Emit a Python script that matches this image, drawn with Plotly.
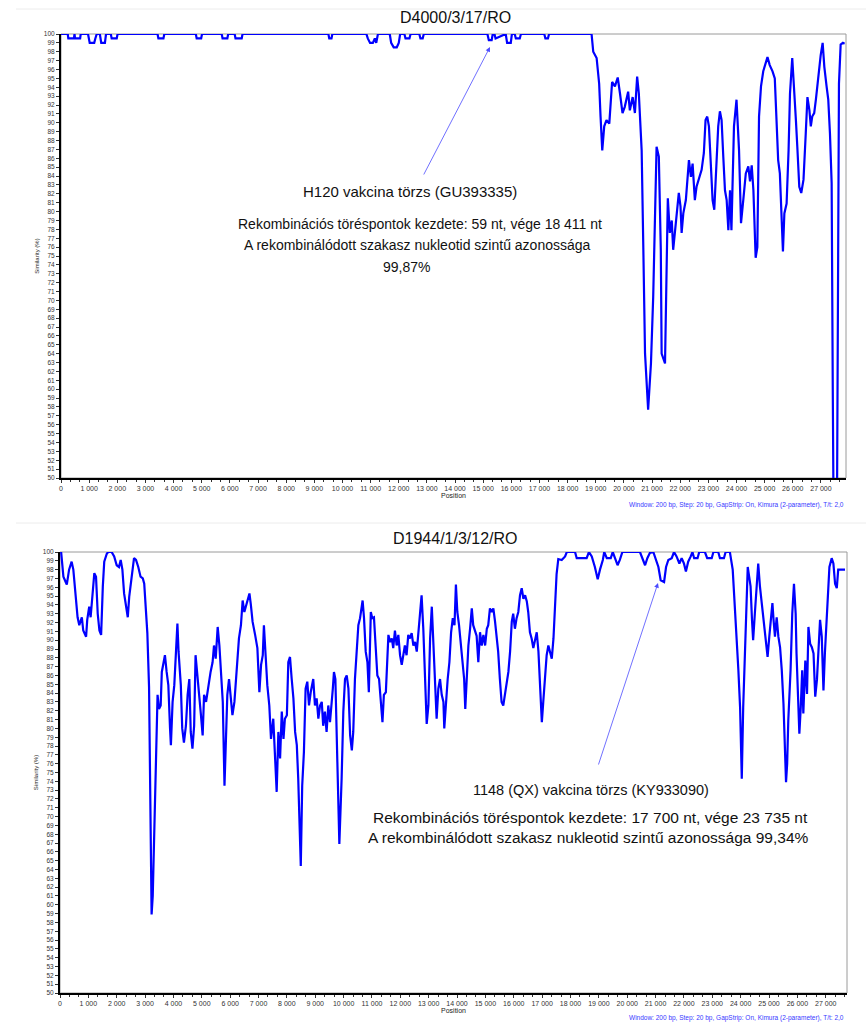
import plotly.graph_objects as go

W, H = 866, 1023

# ---------------- data: panel 1 (D4000/3/17/RO vs H120) ----------------
top_pos = [0, 240, 260, 460, 480, 500, 680, 700, 960, 1020, 1060, 1180, 1220, 1270,
           1380, 1430, 1470, 1560, 1600, 1770, 1800, 1980, 2010,
           3430, 3460, 3640, 3670, 4790, 4820, 4980, 5010, 5710, 5740, 5910, 5940,
           6170, 6200, 6420, 6450, 9500, 9530, 9610, 9640,
           10850, 10900, 10980, 11080, 11150, 11200, 11260, 11680, 11730, 11820,
           11930, 12000, 12050, 12200, 12240, 12380, 12420, 12730, 12770, 12850, 12890,
           15150, 15200, 15300, 15340, 15400, 15440, 15800, 15850, 15980, 16020,
           16120, 16160, 16300, 16340, 17170, 17210, 17300, 17340,
           18850, 18910, 19030, 19120, 19170, 19230, 19300, 19380, 19480, 19540,
           19580, 19680, 19780, 19860, 19950, 20030, 20150, 20210, 20310, 20390,
           20470, 20530, 20630, 20690, 20750, 20860, 20960, 21040, 21100, 21160,
           21240, 21310, 21340, 21460, 21520, 21560, 21630, 21700, 21750, 21810,
           21870, 21950, 22010, 22050, 22110, 22200, 22310, 22380, 22440, 22520,
           22580, 22680, 22760, 22840, 22900, 22960, 23020, 23080, 23150, 23210,
           23290, 23350, 23410, 23470, 23530, 23590, 23650, 23710, 23770, 23820,
           23910, 24000, 24090, 24160, 24240, 24330, 24420, 24480, 24540, 24600,
           24680, 24740, 24800, 24870, 24950, 25030, 25100, 25180, 25280, 25360,
           25420, 25480, 25540, 25600, 25650, 25700, 25780, 25850, 25900, 25980,
           26040, 26110, 26160, 26230, 26300, 26380, 26460, 26520, 26590, 26640,
           26690, 26760, 26820, 26900, 26990, 27060, 27120, 27200, 27260, 27320,
           27380, 27420, 27460, 27560, 27590, 27640, 27700, 27780, 27840]
top_sim = [100, 100, 99.5, 99.5, 100, 99.5, 99.5, 100, 100, 99, 99, 99, 99.5, 100,
           100, 99, 99, 99, 100, 100, 99.5, 99.5, 100,
           100, 99.5, 99.5, 100, 100, 99.5, 99.5, 100, 100, 99.5, 99.5, 100,
           100, 99.5, 99.5, 100, 100, 99.5, 99.5, 100,
           100, 99.5, 99, 99, 99.5, 99, 100, 100, 99, 98.5,
           98.5, 99, 100, 100, 99.5, 99.5, 100, 100, 99.5, 99.5, 100,
           100, 99.3, 99.3, 100, 100, 99.5, 100, 99, 99, 100,
           100, 99.5, 99.5, 100, 100, 99.5, 99.5, 100,
           100, 98.0, 97.3, 94.4, 90.7, 86.9, 89.6, 90.3, 89.9, 92.9,
           94.6, 94.1, 95.1, 93.3, 91.1, 91.8, 93.5, 91.4, 92.9, 91.1,
           95.2, 93.3, 86.9, 75.7, 64.0, 57.7, 62.9, 70.4, 77.9, 87.3,
           86.2, 75.7, 64.0, 62.9, 74.2, 81.5, 77.6, 79.0, 75.7, 77.9,
           79.8, 82.1, 80.6, 77.6, 79.8, 81.3, 85.8, 83.9, 85.4, 81.3,
           82.8, 83.9, 84.7, 86.6, 90.3, 90.7, 89.6, 85.8, 81.3, 80.2,
           85.1, 89.6, 91.3, 90.3, 86.2, 82.4, 81.3, 77.9, 82.4, 77.9,
           89.6, 92.6, 86.9, 78.7, 81.3, 84.3, 85.1, 83.4, 85.2, 82.4,
           74.8, 76.0, 90.7, 94.1, 95.8, 96.7, 97.4, 96.5, 95.8, 95.0,
           90.7, 85.8, 84.3, 80.0, 75.5, 79.8, 80.9, 86.9, 93.3, 97.3,
           93.3, 90.3, 87.3, 82.8, 82.1, 83.6, 88.8, 92.9, 91.4, 89.6,
           90.7, 91.1, 92.6, 95.2, 97.6, 99.0, 96.3, 94.1, 92.6, 88.8,
           83.2, 60.0, 40.0, 40.0, 69.3, 94.4, 98.8, 99.0, 98.9]

# ---------------- data: panel 2 (D1944/1/3/12/RO vs 1148 QX) ----------------
bot_pos = [40, 120, 200, 240, 320, 410, 470, 560, 620, 680, 770, 820, 920, 960,
           1030, 1080, 1140, 1210, 1270, 1330, 1390, 1450, 1510, 1560, 1650, 1700,
           1820, 1910, 2000, 2080, 2140, 2200, 2260, 2330, 2390, 2440, 2530, 2610,
           2680, 2760, 2840, 2920, 2970, 3030, 3080, 3140, 3180, 3230, 3270, 3330,
           3390, 3440, 3490, 3550, 3590, 3700, 3760, 3820, 3880, 3910, 3970, 4030,
           4090, 4140, 4180, 4260, 4310, 4370, 4440, 4500, 4560, 4610, 4670, 4730,
           4780, 4840, 4910, 4970, 5030, 5080, 5150, 5230, 5310, 5380, 5430, 5490,
           5560, 5620, 5680, 5740, 5800, 5840, 5900, 5960, 6020, 6080, 6150, 6230,
           6310, 6380, 6440, 6500, 6560, 6620, 6680, 6730, 6790, 6880, 6960, 7030,
           7090, 7150, 7190, 7250, 7310, 7380, 7440, 7520, 7580, 7640, 7700, 7760,
           7820, 7880, 7930, 8000, 8050, 8110, 8170, 8230, 8290, 8350, 8400, 8460,
           8490, 8540, 8600, 8660, 8720, 8780, 8840, 8930, 8990, 9050, 9110, 9170,
           9230, 9280, 9340, 9400, 9460, 9520, 9580, 9620, 9660, 9710, 9780, 9850,
           9930, 9990, 10050, 10110, 10170, 10230, 10290, 10340, 10400, 10460, 10520,
           10580, 10640, 10670, 10720, 10780, 10840, 10890, 10960, 11010, 11070,
           11130, 11190, 11250, 11310, 11370, 11420, 11490, 11580, 11640, 11700,
           11750, 11810, 11870, 11930, 11990, 12050, 12100, 12160, 12220, 12280,
           12340, 12400, 12460, 12520, 12580, 12640, 12690, 12750, 12810, 12870,
           12930, 12990, 13050, 13110, 13160, 13220, 13280, 13340, 13400, 13460,
           13520, 13550, 13610, 13670, 13730, 13790, 13850, 13910, 13960, 14010,
           14070, 14130, 14190, 14250, 14290, 14340, 14400, 14460, 14520, 14570,
           14630, 14690, 14750, 14810, 14870, 14930, 14990, 15050, 15100, 15160,
           15220, 15280, 15340, 15400, 15450, 15510, 15570, 15630, 15690, 15750,
           15810, 15870, 15930, 15980, 16040, 16100, 16160, 16220, 16280, 16340,
           16400, 16460, 16510, 16570, 16630, 16690, 16750, 16810, 16870, 16930,
           16990, 17040, 17100, 17160, 17220, 17280, 17340, 17400, 17450, 17510,
           17570, 17690, 17750, 17810, 17870, 18160, 18220, 18570, 18650, 18750,
           18860, 18960, 19040, 19140, 19190, 19280, 19420, 19490, 19570, 19660,
           19740, 19830, 20450, 20510, 20630, 20710, 20800, 20920, 21020, 21100,
           21180, 21300, 21370, 21450, 21570, 21650, 21740, 21840, 21920, 22000,
           22070, 22150, 22240, 22300, 22360, 22480, 22540, 22740, 22820, 22980,
           23040, 23210, 23270, 23410, 23470, 23620, 23720, 23800, 23860, 23920,
           23980, 24020, 24040, 24090, 24150, 24210, 24250, 24300, 24350, 24400,
           24440, 24500, 24560, 24620, 24680, 24740, 24820, 24890, 24950, 25010,
           25070, 25120, 25160, 25210, 25270, 25330, 25390, 25450, 25510, 25560,
           25600, 25640, 25680, 25760, 25820, 25880, 25940, 25970, 26030, 26070,
           26120, 26170, 26210, 26280, 26340, 26390, 26450, 26510, 26570, 26630,
           26690, 26740, 26800, 26860, 26920, 26970, 27060, 27130, 27210, 27270,
           27330, 27390, 27440, 27500, 27680]
bot_sim = [100, 97.2, 96.6, 96.3, 98.0, 98.9, 98.0, 94.9, 92.6, 91.7, 92.6, 91.1, 90.4, 92.3,
           93.8, 92.6, 95.1, 97.6, 97.2, 93.0, 91.1, 90.6, 96.1, 98.9, 99.8, 100,
           100, 99.5, 98.5, 98.3, 99.1, 98.0, 95.3, 93.8, 92.6, 94.9, 97.6, 99.3,
           99.1, 98.3, 97.2, 97.0, 96.4, 93.8, 90.8, 84.7, 74.3, 58.9, 61.0, 70.0,
           77.3, 83.8, 82.2, 82.6, 86.4, 88.3, 86.4, 84.9, 80.0, 78.1, 83.0, 84.9,
           88.7, 91.9, 88.7, 84.9, 80.0, 78.4, 80.3, 83.8, 85.6, 79.6, 77.7, 80.3,
           88.3, 86.4, 83.8, 81.5, 79.2, 83.8, 83.0, 84.9, 86.4, 87.5, 89.4, 87.9,
           91.5, 89.4, 86.4, 83.0, 73.5, 78.1, 83.8, 85.6, 83.8, 81.5, 83.0, 86.4,
           90.2, 91.7, 94.5, 93.2, 94.0, 94.7, 95.3, 94.0, 92.1, 90.6, 89.1, 84.1,
           87.2, 88.3, 91.7, 88.3, 84.9, 82.6, 78.8, 81.1, 77.3, 72.8, 79.6, 76.6,
           81.9, 78.8, 81.1, 81.5, 87.5, 88.1, 85.6, 83.4, 79.6, 78.1, 74.3, 68.6,
           64.4, 73.5, 77.3, 84.5, 85.3, 82.6, 84.1, 85.6, 82.6, 83.4, 81.1, 82.6,
           83.0, 80.3, 81.9, 79.6, 82.6, 80.7, 82.6, 84.5, 86.4, 85.6, 76.2, 66.9,
           74.3, 81.9, 85.6, 86.0, 84.5, 79.2, 77.5, 79.6, 85.6, 89.4, 91.7,
           92.5, 94.0, 94.5, 92.5, 88.7, 87.5, 84.1, 93.2, 92.5, 92.6,
           89.4, 86.0, 85.6, 82.6, 80.7, 83.8, 84.1, 90.6, 89.8, 90.2,
           89.1, 91.1, 89.4, 90.6, 88.3, 87.2, 88.3, 89.4, 88.3, 90.6,
           90.2, 90.8, 89.4, 89.8, 88.7, 90.9, 93.2, 95.1, 91.3, 84.9,
           80.5, 82.6, 90.2, 93.8, 90.2, 84.9, 81.1, 84.5, 85.6, 83.8,
           83.0, 80.0, 83.4, 85.6, 87.5, 90.9, 92.5, 91.7, 96.3, 93.2,
           91.7, 89.4, 87.2, 85.6, 82.2, 86.0, 89.4, 91.3, 93.6, 91.7,
           91.1, 90.5, 87.5, 90.9, 89.4, 90.6, 89.4, 91.3, 91.7, 93.6,
           93.2, 93.6, 92.1, 90.6, 88.7, 85.6, 83.0, 82.6, 83.8, 84.9,
           86.4, 88.7, 92.1, 93.0, 91.3, 92.5, 93.2, 95.1, 95.9, 94.7,
           95.1, 94.4, 93.2, 90.9, 90.2, 89.1, 90.2, 90.9, 88.7, 84.9,
           80.7, 83.0, 85.6, 88.3, 89.4, 88.7, 87.9, 90.2, 93.2, 97.5,
           99.2, 99.1, 99.3, 99.5, 100, 100, 99.3, 99.3, 100, 99.5,
           98.3, 96.9, 98.0, 99.1, 100, 99.3, 99.3, 100, 99.3, 98.5,
           99.1, 100, 100, 99.5, 98.5, 99.3, 99.9, 100, 99.1, 98.3,
           96.8, 96.6, 98.3, 99.1, 99.3, 100, 99.5, 98.7, 99.3, 98.7,
           97.8, 98.9, 99.5, 100, 99.3, 99.3, 100, 100, 99.3, 99.3,
           100, 100, 99.3, 99.3, 100, 100, 98.0, 93.8, 90.8, 86.6,
           82.4, 76.0, 74.3, 82.4, 89.2, 96.1, 98.3, 97.2, 96.1, 92.3,
           90.0, 93.0, 96.4, 98.7, 96.1, 94.2, 91.5, 89.2, 88.1, 90.4,
           92.6, 94.2, 92.3, 90.4, 92.6, 90.4, 89.2, 86.6, 82.8, 77.9,
           73.9, 76.0, 80.9, 86.6, 93.0, 96.4, 93.0, 88.5, 82.0, 79.4,
           82.4, 86.6, 81.7, 87.7, 83.9, 91.5, 89.6, 89.2, 88.5, 83.6,
           85.5, 88.5, 92.3, 90.4, 84.3, 88.5, 94.2, 98.3, 99.3, 98.7,
           96.4, 95.9, 98.0, 98.0, 98.0]

titles = ["D4000/3/17/RO", "D1944/1/3/12/RO"]
footnote = "Window: 200 bp, Step: 20 bp, GapStrip: On, Kimura (2-parameter), T/t: 2,0"
top_notes = ["H120 vakcina törzs (GU393335)",
             "Rekombinációs töréspontok kezdete: 59 nt, vége 18 411 nt",
             "A rekombinálódott szakasz nukleotid szintű azonossága",
             "99,87%"]
bot_notes = ["1148 (QX) vakcina törzs (KY933090)",
             "Rekombinációs töréspontok kezdete: 17 700 nt, vége 23 735 nt",
             "A rekombinálódott szakasz nukleotid szintű azonossága 99,34%"]

FONT = "Arial, Liberation Sans, sans-serif"


def px(x):
    return x / W


def py(y):
    return 1 - y / H


fig = go.Figure()
fig.add_trace(go.Scatter(x=top_pos, y=top_sim, mode="lines",
                         line=dict(color="#0000ff", width=2.2), xaxis="x", yaxis="y",
                         showlegend=False))
fig.add_trace(go.Scatter(x=bot_pos, y=bot_sim, mode="lines",
                         line=dict(color="#0000ff", width=2.2), xaxis="x2", yaxis="y2",
                         showlegend=False))


def xax(domain, rng, anchor):
    return dict(domain=domain, range=rng, anchor=anchor, showline=True, linecolor="#000",
                linewidth=2, ticks="outside", ticklen=3, tickwidth=1, tickcolor="#333",
                tick0=0, dtick=1000, tickformat=",d", showgrid=False, zeroline=False,
                automargin=False,
                tickfont=dict(size=7, color="#333", family=FONT),
                minor=dict(ticks="outside", ticklen=2, tick0=0, dtick=1000 / 3,
                           tickcolor="#333", showgrid=False),
                title=dict(text="Position", font=dict(size=7, color="#222", family=FONT),
                           standoff=2),
                fixedrange=True)


def yax(domain, anchor):
    return dict(domain=domain, range=[50, 100], anchor=anchor, showline=True,
                linecolor="#000", linewidth=2, ticks="outside", ticklen=3, tickwidth=1,
                tickcolor="#333", tick0=50, dtick=1, showgrid=False, zeroline=False,
                automargin=False,
                tickfont=dict(size=6.5, color="#333", family=FONT),
                title=dict(text="Similarity (%)", font=dict(size=6, color="#222", family=FONT),
                           standoff=4),
                fixedrange=True)


fig.update_layout(
    width=W, height=H, margin=dict(l=0, r=0, t=0, b=0, autoexpand=False),
    paper_bgcolor="white", plot_bgcolor="white", separators=", ",
    xaxis=xax([px(61), px(846)], [0, 27890], "y"),
    yaxis=yax([py(478), py(34)], "x"),
    xaxis2=xax([px(60), px(847)], [0, 27750], "y2"),
    yaxis2=yax([py(993), py(552)], "x2"),
)

shapes = []
for xr, yr in (("x domain", "y domain"), ("x2 domain", "y2 domain")):
    shapes.append(dict(type="rect", xref=xr, yref=yr, x0=0, x1=1, y0=0, y1=1,
                       line=dict(color="#9a9a9a", width=1), layer="below"))
for yy in (9, 523):
    shapes.append(dict(type="line", xref="paper", yref="paper", x0=px(16), x1=1,
                       y0=py(yy), y1=py(yy), line=dict(color="#ececec", width=1)))
fig.update_layout(shapes=shapes)


def label(txt, cx, cy, size, color="#111", xanchor="center"):
    return dict(x=px(cx), y=py(cy), text=txt, showarrow=False, xref="paper",
                yref="paper", xanchor=xanchor, yanchor="middle",
                font=dict(size=size, color=color, family=FONT))


ann = [label(titles[0], 455, 18, 16), label(titles[1], 455, 538, 16)]
for yy in (505, 1018):
    ann.append(label(footnote, 846, yy, 6.5, color="#3838ff", xanchor="right"))

for txt, cx, sz, cy in zip(top_notes, (410, 420, 417, 406), (15, 14, 14, 14),
                           (191, 224, 245, 267)):
    ann.append(label(txt, cx, cy, sz))
for txt, cx, sz, cy in zip(bot_notes, (591, 590, 588), (14.5, 15.5, 15.5), (790, 817, 837)):
    ann.append(label(txt, cx, cy, sz))

# arrows (head position, tail offset in pixels)
ann.append(dict(x=px(490), y=py(47), xref="paper", yref="paper", text="", showarrow=True,
                ax=-67, ay=129, arrowhead=2, arrowsize=1.2, arrowwidth=0.8,
                arrowcolor="#4b4bff"))
ann.append(dict(x=px(658), y=py(583), xref="paper", yref="paper", text="", showarrow=True,
                ax=-60, ay=183, arrowhead=2, arrowsize=1.2, arrowwidth=0.8,
                arrowcolor="#4b4bff"))
fig.update_layout(annotations=ann)

fig.write_html("out.html", config={"displayModeBar": False},
               post_script="document.body.style.margin='0px';"
                           "document.body.style.overflow='hidden';")
